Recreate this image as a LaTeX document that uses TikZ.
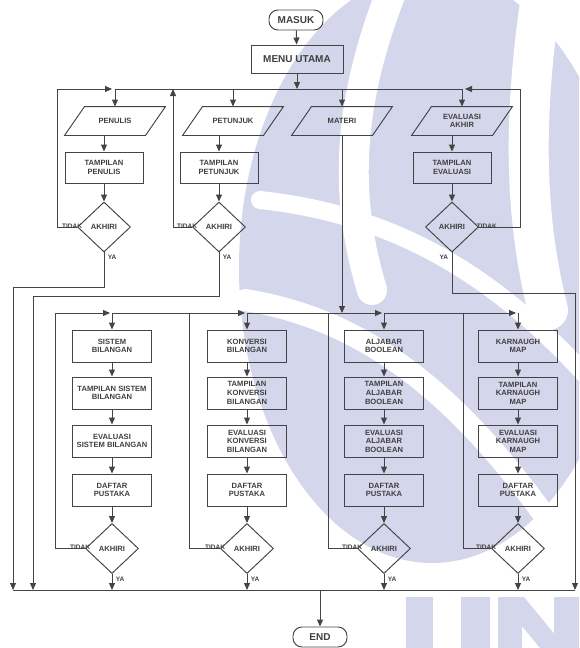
\documentclass[tikz,border=0pt]{standalone}
\usepackage{fontspec}
\setmainfont{Liberation Sans}
\usetikzlibrary{shapes.geometric,arrows.meta,calc}
\definecolor{ln}{HTML}{444444}
\definecolor{tx}{HTML}{404040}
\definecolor{wm}{HTML}{D4D7EB}
\begin{document}
\begin{tikzpicture}[x=1pt,y=-1pt,line width=0.95pt,draw=ln,
  every node/.style={font=\bfseries\fontsize{7.6}{8.6}\selectfont,text=tx},
  box/.style={draw=ln,rectangle,minimum width=79pt,minimum height=32pt,inner sep=1pt,align=center},
  iot/.style={minimum width=80pt,minimum height=28pt,inner sep=0pt,align=center},
  dec/.style={draw=ln,diamond,minimum width=53pt,minimum height=50pt,inner sep=0pt},
  term/.style={draw=ln,rounded corners=9pt,minimum width=54pt,minimum height=20pt,inner sep=1pt,font=\bfseries\fontsize{10}{12}\selectfont},
  arr/.style={-{Triangle[length=7pt,width=6pt]}},
  lbl/.style={font=\bfseries\fontsize{6.5}{7}\selectfont,inner sep=0.5pt},
  wmline/.style={draw=white,line cap=round}]
\useasboundingbox (0,0) rectangle (579,648);
% ---- watermark (background logo)
\begin{scope}
\clip (0,0) rectangle (579,648);
\fill[wm] (432,268) ellipse [x radius=193, y radius=295];
\draw[wmline,line width=30pt] (392,-10) .. controls (345,110) and (345,200) .. (372,290);
\draw[wmline,line width=40pt] (542,-10) .. controls (522,120) and (525,220) .. (548,310);
\draw[wmline,line width=22pt] (245,300) .. controls (370,320) and (470,400) .. (575,560);
\draw[wmline,line width=18pt] (260,200) .. controls (400,215) and (500,280) .. (590,380);
\fill[wm] (406,597) rectangle (433,648);
\fill[wm] (461,597) rectangle (490,648);
\fill[wm] (498,597) -- (524,597) -- (566,648) -- (540,648) -- cycle;
\fill[wm] (498,597) rectangle (522,648);
\fill[wm] (554,597) rectangle (579,648);
\end{scope}
% ---- top
\node[term] (masuk) at (296,20) {MASUK};
\node[box,minimum width=92pt,minimum height=28pt,font=\bfseries\fontsize{10}{12}\selectfont] (menu) at (297,59) {MENU UTAMA};
\coordinate (bus) at (297,89);
\draw[arr] (masuk) -- (menu);
\draw[arr] (menu) -- (bus);
% ---- upper row
\node[iot] (penulis) at (115,121) {PENULIS};
\node[iot] (petunjuk) at (233,121) {PETUNJUK};
\node[iot] (materi) at (342,121) {MATERI};
\node[iot] (evaluasi) at (462,121) {EVALUASI\\AKHIR};
\foreach \n in {penulis,petunjuk,materi,evaluasi}{
  \draw ($(\n.north west)+(10,0)$) -- ($(\n.north east)+(10,0)$) -- ($(\n.south east)+(-10,0)$) -- ($(\n.south west)+(-10,0)$) -- cycle;}
\node[box,minimum width=78pt,minimum height=31pt] (tpenulis) at (104,167.5) {TAMPILAN\\PENULIS};
\node[box,minimum width=78pt,minimum height=31pt] (tpetunjuk) at (219,167.5) {TAMPILAN\\PETUNJUK};
\node[box,minimum width=78pt,minimum height=31pt] (tevaluasi) at (452,167.5) {TAMPILAN\\EVALUASI};
\node[dec] (d1) at (104,227) {AKHIRI};
\node[dec] (d2) at (219,227) {AKHIRI};
\node[dec] (d4) at (452,227) {AKHIRI};
\draw[arr] (penulis.south -| tpenulis.north) -- (tpenulis);
\draw[arr] (petunjuk.south -| tpetunjuk.north) -- (tpetunjuk);
\draw[arr] (evaluasi.south -| tevaluasi.north) -- (tevaluasi);
\draw[arr] (tpenulis) -- (d1);
\draw[arr] (tpetunjuk) -- (d2);
\draw[arr] (tevaluasi) -- (d4);
% top bus and loops
\coordinate (l1) at (57,89);
\coordinate (l2) at (173,89);
\coordinate (l4) at (520,89);
\draw (penulis.north |- bus) -- (evaluasi.north |- bus);
\draw[arr] (d1.west) -| (l1) -- ($(penulis.north |- bus)+(-3,0)$);
\draw[arr] (d2.west) -| (l2);
\draw[arr] (d4.east) -| (l4) -- ($(evaluasi.north |- bus)+(3,0)$);
\foreach \n in {penulis,petunjuk,materi,evaluasi}{\draw[arr] (\n.north |- bus) -- (\n.north);}
\node[lbl,anchor=south east] at ($(d1.west)+(6,2)$) {TIDAK};
\node[lbl,anchor=south east] at ($(d2.west)+(6,2)$) {TIDAK};
\node[lbl,anchor=south west] at ($(d4.east)+(-3,2)$) {TIDAK};
\node[lbl,anchor=north west] at ($(d1.south)+(3,2)$) {YA};
\node[lbl,anchor=north west] at ($(d2.south)+(3,2)$) {YA};
\node[lbl,anchor=north east] at ($(d4.south)+(-3,2)$) {YA};
% ---- lower columns
\coordinate (lbus) at (340,313);
\coordinate (bot) at (320,590);
\foreach \c/\x/\ta/\tb/\tc in {
  1/112/{SISTEM\\BILANGAN}/{TAMPILAN SISTEM\\BILANGAN}/{EVALUASI\\SISTEM BILANGAN},
  2/247/{KONVERSI\\BILANGAN}/{TAMPILAN\\KONVERSI\\BILANGAN}/{EVALUASI\\KONVERSI\\BILANGAN},
  3/384/{ALJABAR\\BOOLEAN}/{TAMPILAN\\ALJABAR\\BOOLEAN}/{EVALUASI\\ALJABAR\\BOOLEAN},
  4/518/{KARNAUGH\\MAP}/{TAMPILAN\\KARNAUGH\\MAP}/{EVALUASI\\KARNAUGH\\MAP}}{
  \node[box] (a\c) at (\x,346) {\ta};
  \node[box] (b\c) at (\x,393) {\tb};
  \node[box] (e\c) at (\x,441) {\tc};
  \node[box] (f\c) at (\x,490) {DAFTAR\\PUSTAKA};
  \node[dec] (g\c) at (\x,548.5) {AKHIRI};
  \draw[arr] (a\c) -- (b\c);
  \draw[arr] (b\c) -- (e\c);
  \draw[arr] (e\c) -- (f\c);
  \draw[arr] (f\c) -- (g\c);
  \draw[arr] (a\c.north |- lbus) -- (a\c);
  \draw[arr] (g\c) -- (g\c.south |- bot);
  \node[lbl,anchor=south east] at ($(g\c.west)+(6,2)$) {TIDAK};
  \node[lbl,anchor=north west] at ($(g\c.south)+(3,2)$) {YA};
}
\coordinate (m1) at (55,313);
\coordinate (m2) at (189,313);
\coordinate (m3) at (328,313);
\coordinate (m4) at (463,313);
\draw[arr] (g1.west) -| (m1) -- ($(a1.north |- lbus)+(-2,0)$);
\draw[arr] (a1.north |- lbus) -- ($(a2.north |- lbus)+(-2,0)$);
\draw[arr] (a2.north |- lbus) -- ($(a3.north |- lbus)+(-2,0)$);
\draw[arr] (a3.north |- lbus) -- ($(a4.north |- lbus)+(-2,0)$);
\draw (g2.west) -| (m2);
\draw (g3.west) -| (m3);
\draw (g4.west) -| (m4);
% MATERI to lower bus
\draw[arr] (materi.south) -- (materi.south |- lbus);
% ---- YA returns from upper row
\coordinate (r1) at (13,590);
\coordinate (r2) at (33,590);
\coordinate (r4) at (575,590);
\draw[arr] (d1.south) -- ++(0,35) -| (r1);
\draw[arr] (d2.south) -- ++(0,44) -| (r2);
\draw[arr] (d4.south) -- ++(0,41) -| (r4);
\draw (r1) -- (r4);
% ---- end
\node[term] (end) at (320,637) {END};
\draw[arr] (bot) -- (end);
\end{tikzpicture}
\end{document}
